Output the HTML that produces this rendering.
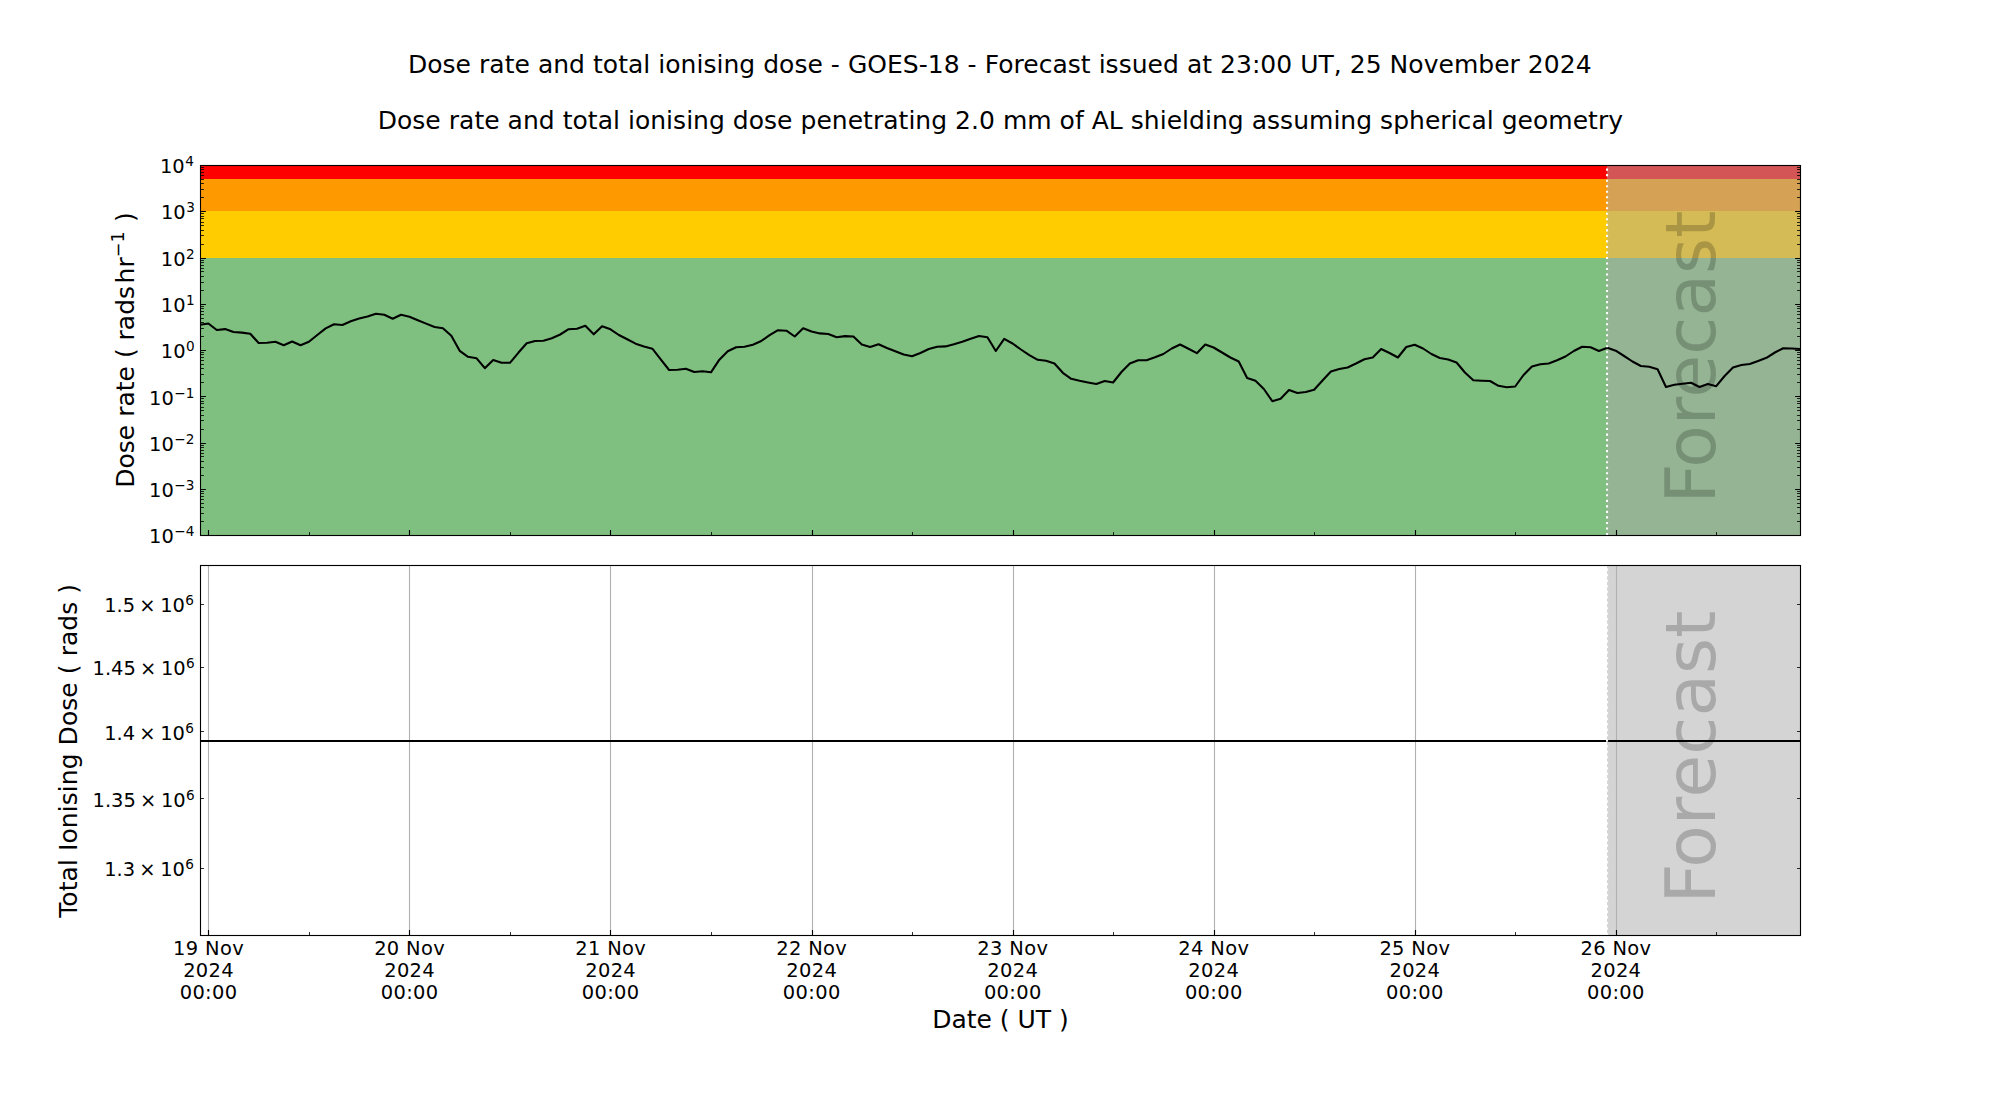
<!DOCTYPE html>
<html lang="en"><head><meta charset="utf-8"><title>Dose rate and total ionising dose - GOES-18</title>
<style>html,body{margin:0;padding:0;background:#fff}body{width:2000px;height:1100px;overflow:hidden}svg text{white-space:pre}</style></head>
<body>
<svg width="2000" height="1100" viewBox="0 0 2000 1100" font-family='"DejaVu Sans","Liberation Sans",sans-serif' style="display:block">
<rect width="2000" height="1100" fill="#fff"/>
<g shape-rendering="crispEdges">
<rect x="200.0" y="258.00" width="1600.0" height="277.00" fill="#7fbf7f"/>
<rect x="200.0" y="211.00" width="1600.0" height="47.00" fill="#ffcc00"/>
<rect x="200.0" y="179.00" width="1600.0" height="32.00" fill="#ff9900"/>
<rect x="200.0" y="165.00" width="1600.0" height="14.00" fill="#ff0000"/>
</g>
<rect x="1607" y="165.0" width="193.0" height="370.0" fill="#a9a9a9" fill-opacity="0.5"/>
<rect x="1607" y="565.0" width="193.0" height="370.0" fill="#a9a9a9" fill-opacity="0.5"/>
<line x1="208.50" x2="208.50" y1="565.0" y2="935.0" stroke="#b0b0b0" stroke-width="1.11"/>
<line x1="409.50" x2="409.50" y1="565.0" y2="935.0" stroke="#b0b0b0" stroke-width="1.11"/>
<line x1="610.50" x2="610.50" y1="565.0" y2="935.0" stroke="#b0b0b0" stroke-width="1.11"/>
<line x1="812.50" x2="812.50" y1="565.0" y2="935.0" stroke="#b0b0b0" stroke-width="1.11"/>
<line x1="1013.50" x2="1013.50" y1="565.0" y2="935.0" stroke="#b0b0b0" stroke-width="1.11"/>
<line x1="1214.50" x2="1214.50" y1="565.0" y2="935.0" stroke="#b0b0b0" stroke-width="1.11"/>
<line x1="1415.50" x2="1415.50" y1="565.0" y2="935.0" stroke="#b0b0b0" stroke-width="1.11"/>
<line x1="1616.50" x2="1616.50" y1="565.0" y2="935.0" stroke="#b0b0b0" stroke-width="1.11"/>
<text transform="translate(1715.0,504.4) rotate(-90)" font-size="69.44" fill="#000" fill-opacity="0.2"><tspan dx="0.9">F</tspan><tspan dx="-1.6">or</tspan><tspan dx="0.7">ecast</tspan></text>
<text transform="translate(1715.0,904.4) rotate(-90)" font-size="69.44" fill="#000" fill-opacity="0.2"><tspan dx="0.9">F</tspan><tspan dx="-1.6">or</tspan><tspan dx="0.7">ecast</tspan></text>
<defs><clipPath id="c1"><rect x="200.0" y="165.0" width="1600.0" height="370.0"/></clipPath><clipPath id="c2"><rect x="200.0" y="565.0" width="1600.0" height="370.0"/></clipPath></defs>
<polyline clip-path="url(#c1)" points="200.00,324.70 208.38,323.50 216.75,330.00 225.13,329.10 233.51,332.00 241.88,332.60 250.26,333.80 258.64,343.00 267.02,342.80 275.39,341.80 283.77,345.20 292.15,341.50 300.52,345.20 308.90,341.80 317.28,335.00 325.65,328.40 334.03,324.30 342.41,325.00 350.79,321.30 359.16,318.50 367.54,316.50 375.92,313.80 384.29,314.80 392.67,318.80 401.05,314.70 409.42,316.80 417.80,320.20 426.18,323.60 434.55,327.00 442.93,328.20 451.31,335.80 459.69,350.80 468.06,356.80 476.44,358.20 484.82,368.20 493.19,360.00 501.57,362.80 509.95,362.80 518.32,352.80 526.70,343.30 535.08,341.00 543.46,340.70 551.83,338.20 560.21,334.50 568.59,329.20 576.96,328.80 585.34,325.80 593.72,334.30 602.09,326.20 610.47,329.30 618.85,335.00 627.23,339.30 635.60,343.70 643.98,346.50 652.36,348.70 660.73,359.30 669.11,370.00 677.49,369.70 685.86,368.80 694.24,372.00 702.62,371.30 710.99,372.30 719.37,359.70 727.75,351.20 736.13,347.20 744.50,346.70 752.88,344.70 761.26,341.00 769.63,335.20 778.01,330.20 786.39,330.70 794.76,336.50 803.14,328.20 811.52,331.50 819.90,333.40 828.27,334.00 836.65,337.20 845.03,336.10 853.40,336.50 861.78,344.50 870.16,347.00 878.53,344.30 886.91,348.00 895.29,351.30 903.66,354.50 912.04,356.20 920.42,353.00 928.80,349.00 937.17,346.80 945.55,346.40 953.93,344.20 962.30,341.80 970.68,338.80 979.06,336.00 987.43,337.20 995.81,351.00 1004.19,338.80 1012.57,343.50 1020.94,349.50 1029.32,355.20 1037.70,359.80 1046.07,360.80 1054.45,363.50 1062.83,372.80 1071.20,378.80 1079.58,380.80 1087.96,382.40 1096.34,384.00 1104.71,381.00 1113.09,382.50 1121.47,372.00 1129.84,363.50 1138.22,360.20 1146.60,360.20 1154.97,357.30 1163.35,354.00 1171.73,348.50 1180.10,344.50 1188.48,348.80 1196.86,353.20 1205.24,344.50 1213.61,347.50 1221.99,352.50 1230.37,357.50 1238.74,361.50 1247.12,378.00 1255.50,380.80 1263.87,389.00 1272.25,401.20 1280.63,398.70 1289.01,390.00 1297.38,393.00 1305.76,392.00 1314.14,389.80 1322.51,380.50 1330.89,371.50 1339.27,369.00 1347.64,367.50 1356.02,363.50 1364.40,359.20 1372.77,357.50 1381.15,349.00 1389.53,353.00 1397.91,357.50 1406.28,347.00 1414.66,344.70 1423.04,348.50 1431.41,354.00 1439.79,358.00 1448.17,359.50 1456.54,362.50 1464.92,372.50 1473.30,380.30 1481.68,380.70 1490.05,381.00 1498.43,385.80 1506.81,387.30 1515.18,386.50 1523.56,375.00 1531.94,366.50 1540.31,364.30 1548.69,363.50 1557.07,360.30 1565.45,356.50 1573.82,351.00 1582.20,346.70 1590.58,347.30 1598.95,351.00 1607.33,347.80 1615.71,350.70 1624.08,356.00 1632.46,361.50 1640.84,366.00 1649.21,366.80 1657.59,369.20 1665.97,387.00 1674.35,384.80 1682.72,383.80 1691.10,382.80 1699.48,387.00 1707.85,384.00 1716.23,386.20 1724.61,376.00 1732.98,367.50 1741.36,365.00 1749.74,364.00 1758.12,361.00 1766.49,357.80 1774.87,352.50 1783.25,348.20 1791.62,348.50 1800.00,349.00" fill="none" stroke="#000" stroke-width="2.08" stroke-linejoin="round" stroke-linecap="butt"/>
<line x1="200.0" x2="1800.0" y1="741.00" y2="741.00" stroke="#000" stroke-width="2.08"/>
<line x1="1607.04" x2="1607.04" y1="535.0" y2="165.0" stroke="#fff" stroke-width="2.08" stroke-dasharray="2.08 3.44"/>
<line x1="1607.04" x2="1607.04" y1="935.0" y2="565.0" stroke="#fff" stroke-width="2.08" stroke-dasharray="2.08 3.44"/>
<path d="M200.50 535.50L205.90 535.50M1800.50 535.50L1795.10 535.50M200.50 489.50L205.90 489.50M1800.50 489.50L1795.10 489.50M200.50 443.50L205.90 443.50M1800.50 443.50L1795.10 443.50M200.50 396.50L205.90 396.50M1800.50 396.50L1795.10 396.50M200.50 350.50L205.90 350.50M1800.50 350.50L1795.10 350.50M200.50 304.50L205.90 304.50M1800.50 304.50L1795.10 304.50M200.50 258.50L205.90 258.50M1800.50 258.50L1795.10 258.50M200.50 211.50L205.90 211.50M1800.50 211.50L1795.10 211.50M200.50 165.50L205.90 165.50M1800.50 165.50L1795.10 165.50M208.50 535.50L208.50 530.10M409.50 535.50L409.50 530.10M610.50 535.50L610.50 530.10M812.50 535.50L812.50 530.10M1013.50 535.50L1013.50 530.10M1214.50 535.50L1214.50 530.10M1415.50 535.50L1415.50 530.10M1616.50 535.50L1616.50 530.10M208.50 935.50L208.50 930.10M409.50 935.50L409.50 930.10M610.50 935.50L610.50 930.10M812.50 935.50L812.50 930.10M1013.50 935.50L1013.50 930.10M1214.50 935.50L1214.50 930.10M1415.50 935.50L1415.50 930.10M1616.50 935.50L1616.50 930.10" stroke="#000" stroke-width="1.11" fill="none"/>
<path d="M200.50 521.50L203.95 521.50M1800.50 521.50L1797.05 521.50M200.50 513.50L203.95 513.50M1800.50 513.50L1797.05 513.50M200.50 507.50L203.95 507.50M1800.50 507.50L1797.05 507.50M200.50 503.50L203.95 503.50M1800.50 503.50L1797.05 503.50M200.50 499.50L203.95 499.50M1800.50 499.50L1797.05 499.50M200.50 496.50L203.95 496.50M1800.50 496.50L1797.05 496.50M200.50 493.50L203.95 493.50M1800.50 493.50L1797.05 493.50M200.50 491.50L203.95 491.50M1800.50 491.50L1797.05 491.50M200.50 475.50L203.95 475.50M1800.50 475.50L1797.05 475.50M200.50 467.50L203.95 467.50M1800.50 467.50L1797.05 467.50M200.50 461.50L203.95 461.50M1800.50 461.50L1797.05 461.50M200.50 456.50L203.95 456.50M1800.50 456.50L1797.05 456.50M200.50 453.50L203.95 453.50M1800.50 453.50L1797.05 453.50M200.50 450.50L203.95 450.50M1800.50 450.50L1797.05 450.50M200.50 447.50L203.95 447.50M1800.50 447.50L1797.05 447.50M200.50 445.50L203.95 445.50M1800.50 445.50L1797.05 445.50M200.50 429.50L203.95 429.50M1800.50 429.50L1797.05 429.50M200.50 420.50L203.95 420.50M1800.50 420.50L1797.05 420.50M200.50 415.50L203.95 415.50M1800.50 415.50L1797.05 415.50M200.50 410.50L203.95 410.50M1800.50 410.50L1797.05 410.50M200.50 407.50L203.95 407.50M1800.50 407.50L1797.05 407.50M200.50 403.50L203.95 403.50M1800.50 403.50L1797.05 403.50M200.50 401.50L203.95 401.50M1800.50 401.50L1797.05 401.50M200.50 398.50L203.95 398.50M1800.50 398.50L1797.05 398.50M200.50 382.50L203.95 382.50M1800.50 382.50L1797.05 382.50M200.50 374.50L203.95 374.50M1800.50 374.50L1797.05 374.50M200.50 368.50L203.95 368.50M1800.50 368.50L1797.05 368.50M200.50 364.50L203.95 364.50M1800.50 364.50L1797.05 364.50M200.50 360.50L203.95 360.50M1800.50 360.50L1797.05 360.50M200.50 357.50L203.95 357.50M1800.50 357.50L1797.05 357.50M200.50 354.50L203.95 354.50M1800.50 354.50L1797.05 354.50M200.50 352.50L203.95 352.50M1800.50 352.50L1797.05 352.50M200.50 336.50L203.95 336.50M1800.50 336.50L1797.05 336.50M200.50 328.50L203.95 328.50M1800.50 328.50L1797.05 328.50M200.50 322.50L203.95 322.50M1800.50 322.50L1797.05 322.50M200.50 318.50L203.95 318.50M1800.50 318.50L1797.05 318.50M200.50 314.50L203.95 314.50M1800.50 314.50L1797.05 314.50M200.50 311.50L203.95 311.50M1800.50 311.50L1797.05 311.50M200.50 308.50L203.95 308.50M1800.50 308.50L1797.05 308.50M200.50 306.50L203.95 306.50M1800.50 306.50L1797.05 306.50M200.50 290.50L203.95 290.50M1800.50 290.50L1797.05 290.50M200.50 282.50L203.95 282.50M1800.50 282.50L1797.05 282.50M200.50 276.50L203.95 276.50M1800.50 276.50L1797.05 276.50M200.50 271.50L203.95 271.50M1800.50 271.50L1797.05 271.50M200.50 268.50L203.95 268.50M1800.50 268.50L1797.05 268.50M200.50 265.50L203.95 265.50M1800.50 265.50L1797.05 265.50M200.50 262.50L203.95 262.50M1800.50 262.50L1797.05 262.50M200.50 260.50L203.95 260.50M1800.50 260.50L1797.05 260.50M200.50 244.50L203.95 244.50M1800.50 244.50L1797.05 244.50M200.50 235.50L203.95 235.50M1800.50 235.50L1797.05 235.50M200.50 230.50L203.95 230.50M1800.50 230.50L1797.05 230.50M200.50 225.50L203.95 225.50M1800.50 225.50L1797.05 225.50M200.50 222.50L203.95 222.50M1800.50 222.50L1797.05 222.50M200.50 218.50L203.95 218.50M1800.50 218.50L1797.05 218.50M200.50 216.50L203.95 216.50M1800.50 216.50L1797.05 216.50M200.50 213.50L203.95 213.50M1800.50 213.50L1797.05 213.50M200.50 197.50L203.95 197.50M1800.50 197.50L1797.05 197.50M200.50 189.50L203.95 189.50M1800.50 189.50L1797.05 189.50M200.50 183.50L203.95 183.50M1800.50 183.50L1797.05 183.50M200.50 179.50L203.95 179.50M1800.50 179.50L1797.05 179.50M200.50 175.50L203.95 175.50M1800.50 175.50L1797.05 175.50M200.50 172.50L203.95 172.50M1800.50 172.50L1797.05 172.50M200.50 169.50L203.95 169.50M1800.50 169.50L1797.05 169.50M200.50 167.50L203.95 167.50M1800.50 167.50L1797.05 167.50M309.50 535.50L309.50 532.05M510.50 535.50L510.50 532.05M711.50 535.50L711.50 532.05M912.50 535.50L912.50 532.05M1113.50 535.50L1113.50 532.05M1314.50 535.50L1314.50 532.05M1515.50 535.50L1515.50 532.05M1716.50 535.50L1716.50 532.05M309.50 935.50L309.50 932.05M510.50 935.50L510.50 932.05M711.50 935.50L711.50 932.05M912.50 935.50L912.50 932.05M1113.50 935.50L1113.50 932.05M1314.50 935.50L1314.50 932.05M1515.50 935.50L1515.50 932.05M1716.50 935.50L1716.50 932.05M200.50 868.50L203.95 868.50M1800.50 868.50L1797.05 868.50M200.50 798.50L203.95 798.50M1800.50 798.50L1797.05 798.50M200.50 731.50L203.95 731.50M1800.50 731.50L1797.05 731.50M200.50 667.50L203.95 667.50M1800.50 667.50L1797.05 667.50M200.50 604.50L203.95 604.50M1800.50 604.50L1797.05 604.50" stroke="#000" stroke-width="0.83" fill="none"/>
<rect x="200.5" y="165.5" width="1600.0" height="370.0" fill="none" stroke="#000" stroke-width="1.11"/>
<rect x="200.5" y="565.5" width="1600.0" height="370.0" fill="none" stroke="#000" stroke-width="1.11"/>
<text x="999.75" y="73.0" font-size="25.00" text-anchor="middle" textLength="1183.6">Dose rate and total ionising dose - GOES-18 - Forecast issued at 23:00 UT, 25 November 2024</text>
<text x="1000.35" y="128.8" font-size="25.00" text-anchor="middle" textLength="1245.3">Dose rate and total ionising dose penetrating 2.0 mm of AL shielding assuming spherical geometry</text>
<text x="1000.5" y="1027.8" font-size="25.00" text-anchor="middle">Date ( UT )</text>
<text y="542.80" font-size="19.44"><tspan x="149.10">10</tspan><tspan x="174.24" dy="-7.05" font-size="13.61">−4</tspan></text>
<text y="497.00" font-size="19.44"><tspan x="149.10">10</tspan><tspan x="174.24" dy="-7.05" font-size="13.61">−3</tspan></text>
<text y="451.00" font-size="19.44"><tspan x="149.10">10</tspan><tspan x="174.24" dy="-7.05" font-size="13.61">−2</tspan></text>
<text y="405.00" font-size="19.44"><tspan x="149.10">10</tspan><tspan x="174.24" dy="-7.05" font-size="13.61">−1</tspan></text>
<text y="357.60" font-size="19.44"><tspan x="160.81">10</tspan><tspan x="185.94" dy="-7.05" font-size="13.61">0</tspan></text>
<text y="312.00" font-size="19.44"><tspan x="160.81">10</tspan><tspan x="185.94" dy="-7.05" font-size="13.61">1</tspan></text>
<text y="266.00" font-size="19.44"><tspan x="160.81">10</tspan><tspan x="185.94" dy="-7.05" font-size="13.61">2</tspan></text>
<text y="219.00" font-size="19.44"><tspan x="161.01">10</tspan><tspan x="186.14" dy="-7.05" font-size="13.61">3</tspan></text>
<text y="173.00" font-size="19.44"><tspan x="160.01">10</tspan><tspan x="185.14" dy="-7.05" font-size="13.61">4</tspan></text>
<text y="876.00" font-size="19.44"><tspan x="104.20">1.3</tspan><tspan x="139.32">×</tspan><tspan x="160.21">10</tspan><tspan x="185.34" dy="-7.05" font-size="13.61">6</tspan></text>
<text y="807.00" font-size="19.44"><tspan x="92.53">1.35</tspan><tspan x="140.02">×</tspan><tspan x="160.91">10</tspan><tspan x="186.04" dy="-7.05" font-size="13.61">6</tspan></text>
<text y="740.00" font-size="19.44"><tspan x="104.20">1.4</tspan><tspan x="139.32">×</tspan><tspan x="160.21">10</tspan><tspan x="185.34" dy="-7.05" font-size="13.61">6</tspan></text>
<text y="675.00" font-size="19.44"><tspan x="92.53">1.45</tspan><tspan x="140.02">×</tspan><tspan x="160.91">10</tspan><tspan x="186.04" dy="-7.05" font-size="13.61">6</tspan></text>
<text y="612.00" font-size="19.44"><tspan x="104.20">1.5</tspan><tspan x="139.32">×</tspan><tspan x="160.21">10</tspan><tspan x="185.34" dy="-7.05" font-size="13.61">6</tspan></text>
<text font-size="19.44" text-anchor="middle" letter-spacing="0.35"><tspan x="208.58" y="955">19 Nov</tspan><tspan x="208.58" y="976.9">2024</tspan><tspan x="208.58" y="998.8">00:00</tspan></text>
<text font-size="19.44" text-anchor="middle" letter-spacing="0.35"><tspan x="409.62" y="955">20 Nov</tspan><tspan x="409.62" y="976.9">2024</tspan><tspan x="409.62" y="998.8">00:00</tspan></text>
<text font-size="19.44" text-anchor="middle" letter-spacing="0.35"><tspan x="610.67" y="955">21 Nov</tspan><tspan x="610.67" y="976.9">2024</tspan><tspan x="610.67" y="998.8">00:00</tspan></text>
<text font-size="19.44" text-anchor="middle" letter-spacing="0.35"><tspan x="811.72" y="955">22 Nov</tspan><tspan x="811.72" y="976.9">2024</tspan><tspan x="811.72" y="998.8">00:00</tspan></text>
<text font-size="19.44" text-anchor="middle" letter-spacing="0.35"><tspan x="1012.77" y="955">23 Nov</tspan><tspan x="1012.77" y="976.9">2024</tspan><tspan x="1012.77" y="998.8">00:00</tspan></text>
<text font-size="19.44" text-anchor="middle" letter-spacing="0.35"><tspan x="1213.81" y="955">24 Nov</tspan><tspan x="1213.81" y="976.9">2024</tspan><tspan x="1213.81" y="998.8">00:00</tspan></text>
<text font-size="19.44" text-anchor="middle" letter-spacing="0.35"><tspan x="1414.86" y="955">25 Nov</tspan><tspan x="1414.86" y="976.9">2024</tspan><tspan x="1414.86" y="998.8">00:00</tspan></text>
<text font-size="19.44" text-anchor="middle" letter-spacing="0.35"><tspan x="1615.91" y="955">26 Nov</tspan><tspan x="1615.91" y="976.9">2024</tspan><tspan x="1615.91" y="998.8">00:00</tspan></text>
<text transform="translate(134,350) rotate(-90)" font-size="25.00" text-anchor="middle">Dose rate ( rads<tspan dx="2.5">hr</tspan><tspan dy="-9.7" font-size="17.5">−1</tspan><tspan dy="9.7" dx="1.5"> )</tspan></text>
<text transform="translate(77,750.8) rotate(-90)" font-size="25.00" text-anchor="middle" textLength="333.9">Total Ionising Dose ( rads )</text>
</svg>
</body></html>
